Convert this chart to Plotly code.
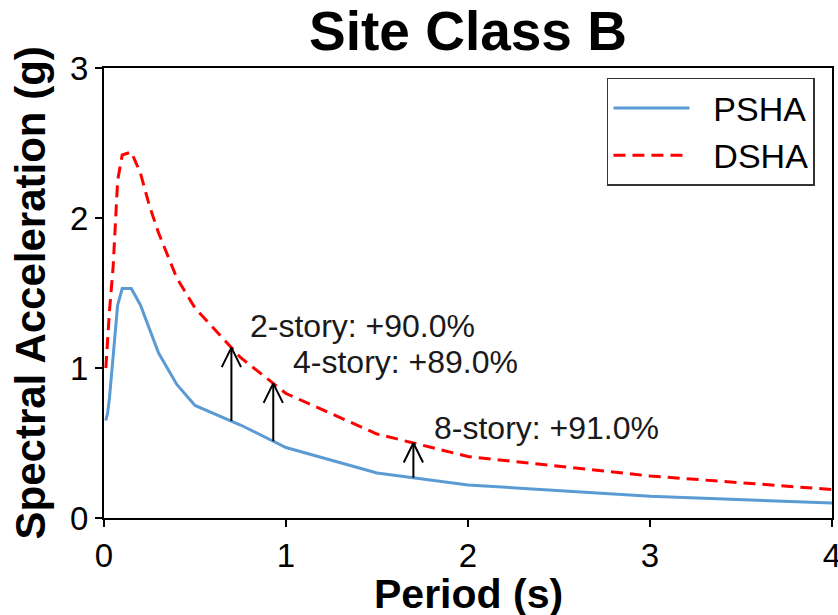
import numpy as np
import plotly.graph_objects as go

# Spectral periods (s)
period = [0.01, 0.02, 0.03, 0.05, 0.075, 0.1, 0.15, 0.2, 0.25, 0.3, 0.4,
          0.5, 0.75, 1.0, 1.5, 2.0, 3.0, 4.0]
# Spectral acceleration (g)
psha = [0.65, 0.70, 0.80, 1.10, 1.42, 1.53, 1.53, 1.42, 1.26, 1.10, 0.89,
        0.75, 0.62, 0.47, 0.30, 0.22, 0.145, 0.10]
dsha = [1.00, 1.20, 1.38, 1.67, 2.25, 2.42, 2.44, 2.30, 2.08, 1.90, 1.60,
        1.40, 1.07, 0.83, 0.56, 0.41, 0.28, 0.19]

# Building fundamental periods and the DSHA increase over PSHA
stories = ["2-story", "4-story", "8-story"]
story_period = [0.70, 0.93, 1.70]
story_increase = [90.0, 89.0, 91.0]
# label anchor (left edge, vertical middle) in data units
label_x = [0.79, 1.03, 1.80]
label_y = [1.28, 1.04, 0.60]

FONT = "Arial, Liberation Sans, sans-serif"
BLUE = "#5b9bd3"
PAD = "\u00a0\u00a0"  # extra gap between legend sample and label

fig = go.Figure()
fig.add_trace(go.Scatter(x=period, y=psha, mode="lines", name=PAD + "PSHA",
                         line=dict(color=BLUE, width=3)))
fig.add_trace(go.Scatter(x=period, y=dsha, mode="lines", name=PAD + "DSHA",
                         line=dict(color="#ff0000", width=3, dash="12px,7px")))

# arrows from the PSHA curve up to the DSHA curve at each building period
head_dx, head_dy = 0.053, 0.13
for T in story_period:
    y0 = float(np.interp(T, period, psha))
    y1 = float(np.interp(T, period, dsha))
    fig.add_trace(go.Scatter(
        x=[T, T, None, T - head_dx, T, T + head_dx],
        y=[y0, y1, None, y1 - head_dy, y1, y1 - head_dy],
        mode="lines", line=dict(color="black", width=2),
        showlegend=False, hoverinfo="skip"))

for name, inc, lx, ly in zip(stories, story_increase, label_x, label_y):
    fig.add_annotation(x=lx, y=ly, xref="x", yref="y", showarrow=False,
                       text=f"{name}: +{inc:.1f}%", xanchor="left",
                       yanchor="middle",
                       font=dict(family=FONT, size=32, color="#1a1a1a"))

# axis titles
fig.add_annotation(x=0.5, y=-0.169, xref="paper", yref="paper",
                   showarrow=False, text="<b>Period (s)</b>",
                   xanchor="center", yanchor="middle",
                   font=dict(family=FONT, size=41, color="black"))
fig.add_annotation(x=-0.101, y=0.5, xref="paper", yref="paper",
                   showarrow=False, text="<b>Spectral Acceleration (g)</b>",
                   textangle=-90, xanchor="center", yanchor="middle",
                   font=dict(family=FONT, size=42, color="black"))

axis_common = dict(showline=True, linecolor="black", linewidth=2,
                   mirror=True, ticks="outside", ticklen=7, tickwidth=2,
                   tickcolor="black", showgrid=False, zeroline=False,
                   automargin=False, ticklabeloverflow="allow",
                   tickfont=dict(family=FONT, size=33, color="black"))

fig.update_layout(
    width=838, height=615,
    margin=dict(l=104, r=6, t=68, b=97),
    paper_bgcolor="white", plot_bgcolor="white",
    title=dict(text="<b>Site Class B</b>", x=0.5585, xanchor="center",
               y=0.95, yanchor="middle", automargin=False,
               font=dict(family=FONT, size=55, color="black")),
    xaxis=dict(range=[0, 4], dtick=1, **axis_common),
    yaxis=dict(range=[0, 3], dtick=1, **axis_common),
    legend=dict(x=0.9766, y=0.978, xanchor="right", yanchor="top",
                bgcolor="white", bordercolor="#333333", borderwidth=1.5,
                font=dict(family=FONT, size=34, color="black"),
                itemwidth=76, tracegroupgap=0),
    showlegend=True,
)

fig.write_html("out.html")
